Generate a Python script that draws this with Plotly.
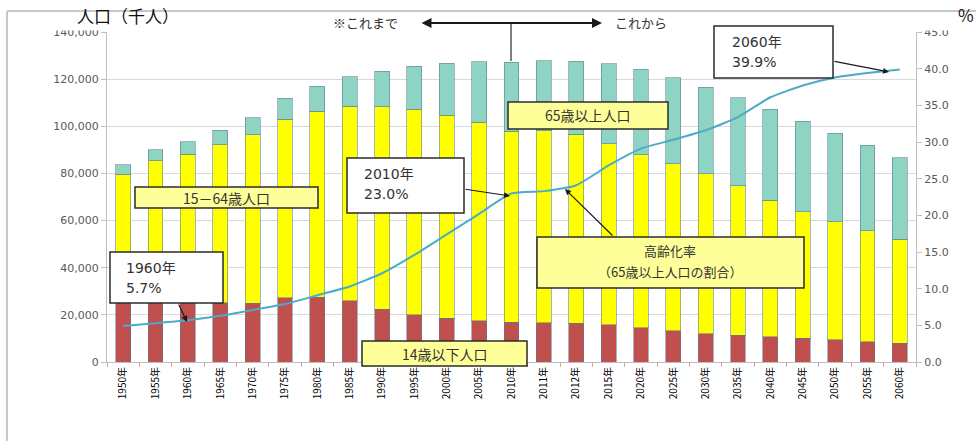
import plotly.graph_objects as go

years = ["1950年", "1955年", "1960年", "1965年", "1970年", "1975年", "1980年", "1985年",
         "1990年", "1995年", "2000年", "2005年", "2010年", "2011年", "2012年", "2015年",
         "2020年", "2025年", "2030年", "2035年", "2040年", "2045年", "2050年", "2055年", "2060年"]
pop_0_14 = [29428, 30123, 28067, 25166, 24823, 27221, 27507, 26033, 22486, 20014, 18472, 17521,
            16803, 16705, 16547, 15827, 14568, 13240, 12039, 11287, 10732, 10116, 9387, 8614, 7912]
pop_15_64 = [50168, 55167, 60002, 66928, 71566, 75807, 78835, 82506, 85904, 87165, 86220, 84092,
             81032, 81342, 80175, 76818, 73408, 70845, 67730, 63430, 57866, 53531, 50013, 47063, 44183]
pop_65 = [4155, 4786, 5350, 6181, 7331, 8865, 10647, 12468, 14895, 18261, 22005, 25672,
          29246, 29752, 30793, 33952, 36124, 36573, 36849, 37407, 38678, 38564, 37676, 36257, 34642]
aging_rate = [4.9, 5.3, 5.7, 6.3, 7.1, 7.9, 9.1, 10.3, 12.1, 14.6, 17.4, 20.2,
              23.0, 23.3, 24.1, 26.8, 29.1, 30.3, 31.6, 33.4, 36.1, 37.7, 38.8, 39.4, 39.9]

W_FIG, H_FIG = 976, 441
L, R, T, B = 107, 916, 32, 362
PW, PH = R - L, B - T


def px(x):
    return (x - L) / PW


def py(y):
    return (B - y) / PH


CJK = "Noto Sans CJK JP"
bar_line = dict(color="rgba(90,120,150,0.55)", width=1)

fig = go.Figure()
fig.add_trace(go.Bar(x=years, y=pop_0_14, name="14歳以下人口",
                     marker=dict(color="#C0504D", line=bar_line)))
fig.add_trace(go.Bar(x=years, y=pop_15_64, name="15－64歳人口",
                     marker=dict(color="#FFFF00", line=bar_line)))
fig.add_trace(go.Bar(x=years, y=pop_65, name="65歳以上人口",
                     marker=dict(color="#8ED4C2", line=bar_line)))
fig.add_trace(go.Scatter(x=years, y=aging_rate, name="高齢化率", yaxis="y2", mode="lines",
                         line=dict(color="#4BACC6", width=2, shape="spline", smoothing=0.5)))

shapes = []
annots = []

# white cover at top (cuts top labels) and frame
shapes.append(dict(type="rect", xref="paper", yref="paper", x0=px(0), x1=px(976), y0=py(30.5), y1=py(-5),
                   fillcolor="white", line=dict(width=0), layer="above"))
shapes.append(dict(type="line", xref="paper", yref="paper", x0=px(7), x1=px(976), y0=py(11), y1=py(11),
                   line=dict(color="#c8c8c8", width=2), layer="above"))
shapes.append(dict(type="line", xref="paper", yref="paper", x0=px(7), x1=px(7), y0=py(11), y1=py(441),
                   line=dict(color="#c8c8c8", width=2), layer="above"))
# vertical line from double arrow
shapes.append(dict(type="line", xref="paper", yref="paper", x0=px(511), x1=px(511), y0=py(24), y1=py(61),
                   line=dict(color="#555555", width=1.5), layer="above"))


def box(x0, y0, x1, y1, fill):
    shapes.append(dict(type="rect", xref="paper", yref="paper", x0=px(x0), x1=px(x1), y0=py(y1), y1=py(y0),
                       fillcolor=fill, line=dict(color="#2b2b2b", width=1.5), layer="above"))


def text(x, y, s, size=14, anchor="center", color="#333333", family=CJK):
    annots.append(dict(xref="paper", yref="paper", x=px(x), y=py(y), text=s, showarrow=False,
                       xanchor=anchor, yanchor="middle", font=dict(family=family, size=size, color=color)))


def arrow(x_tail, y_tail, x_head, y_head, width=1.2, head=2, side="end"):
    annots.append(dict(xref="paper", yref="paper", x=px(x_head), y=py(y_head), text="",
                       showarrow=True, ax=x_tail - x_head, ay=y_tail - y_head,
                       arrowcolor="#1a1a1a", arrowwidth=width, arrowhead=head, arrowsize=1,
                       arrowside=side, standoff=0, startstandoff=0))


LY = "#FFFF99"
NUMF = "DejaVu Sans, Noto Sans CJK JP"

box(135, 187, 318, 208, LY)
text(226, 198, "15－64歳人口", size=14)

box(110, 252, 223, 303, "white")
text(124, 268, "1960年", size=14, anchor="left", family=NUMF)
text(124, 288, "5.7%", size=14, anchor="left", family=NUMF)
arrow(178, 303, 187, 322)

box(347, 158, 464, 213, "white")
text(362, 174, "2010年", size=14, anchor="left", family=NUMF)
text(362, 194, "23.0%", size=14, anchor="left", family=NUMF)
arrow(464, 189, 510, 196)

box(508, 102, 668, 129, LY)
text(588, 115, "65歳以上人口", size=14)

box(537, 237, 804, 288, LY)
text(670, 250, "高齢化率", size=13)
text(670, 271, "（65歳以上人口の割合）", size=13)
arrow(614, 237, 565, 189)

box(714, 26, 833, 78, "white")
text(730, 42, "2060年", size=14, anchor="left", family=NUMF)
text(730, 62, "39.9%", size=14, anchor="left", family=NUMF)
arrow(833, 61, 889, 72)

box(362, 341, 527, 366, LY)
text(445, 354, "14歳以下人口", size=14)

text(128, 16, "人口（千人）", size=17, color="#111111")
text(966, 14, "%", size=17, color="#111111")
text(365, 23, "※これまで", size=13, color="#333333")
text(641, 23, "これから", size=13, color="#333333")
arrow(420, 23, 602, 23, width=2, head=2, side="end+start")

axis_font = dict(family="DejaVu Sans", size=11, color="#595959")

fig.update_layout(
    width=W_FIG, height=H_FIG,
    margin=dict(l=L, r=W_FIG - R, t=T, b=H_FIG - B, pad=0),
    paper_bgcolor="white", plot_bgcolor="white",
    barmode="stack", bargap=0.54, showlegend=False,
    xaxis=dict(type="category", tickangle=-90, tickfont=dict(family=CJK, size=10, color="#000000"),
               showline=True, linecolor="#bfbfbf", ticks="outside", tickson="boundaries",
               ticklen=4, tickcolor="#d9a0a0", showgrid=False),
    yaxis=dict(range=[0, 140000], dtick=20000, tickformat=",", tickfont=axis_font,
               showgrid=True, gridcolor="#d9d9d9", gridwidth=1, showline=True, linecolor="#bfbfbf",
               ticks="outside", ticklen=5, tickcolor="#bfbfbf", zeroline=False),
    yaxis2=dict(range=[0, 45], dtick=5, tickformat=".1f", overlaying="y", side="right",
                tickfont=axis_font, showgrid=False, showline=True, linecolor="#bfbfbf",
                ticks="outside", ticklen=5, tickcolor="#bfbfbf", zeroline=False),
    shapes=shapes, annotations=annots,
)

fig.write_html("out.html")
